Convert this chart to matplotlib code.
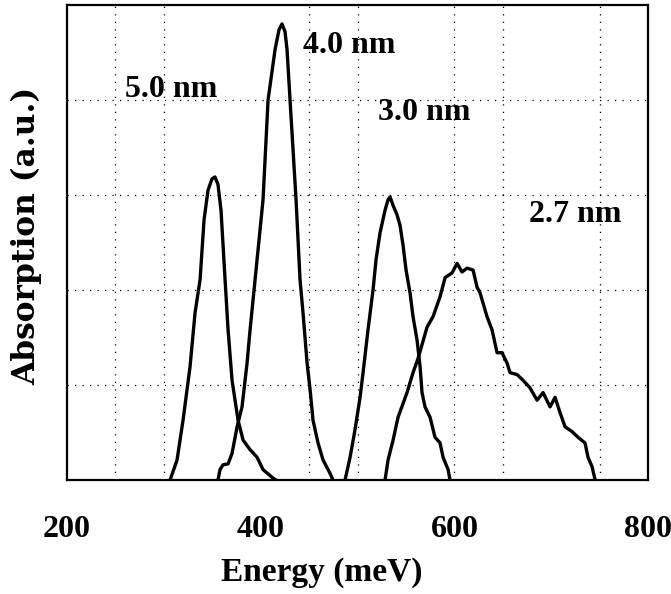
import matplotlib
matplotlib.use("Agg")
import matplotlib.pyplot as plt

# absorption spectra (energy in meV, absorption in a.u.)
e_50 = [306.4, 313.6, 319.8, 327.0, 332.2, 337.4, 341.5, 345.6, 349.7, 352.8,
        355.9, 359.0, 363.2, 366.3, 370.4, 376.6, 381.8, 389.0, 396.2, 402.4,
        412.7, 415.8]
a_50 = [0, 0.21, 0.63, 1.19, 1.76, 2.11, 2.74, 3.05, 3.17, 3.19,
        3.11, 2.84, 2.11, 1.58, 1.05, 0.63, 0.42, 0.32, 0.24, 0.11,
        0.02, 0]

e_40 = [355.9, 358.0, 361.1, 366.3, 370.4, 375.6, 380.7, 385.9, 389.0, 394.2,
        398.3, 402.4, 407.6, 414.8, 418.9, 422.0, 425.1, 427.2, 430.3, 436.5,
        440.6, 443.7, 447.9, 451.0, 454.0, 459.2, 464.4, 471.6, 474.7]
a_40 = [0, 0.11, 0.16, 0.17, 0.28, 0.56, 0.77, 1.23, 1.58, 2.11,
        2.53, 2.95, 4.0, 4.53, 4.74, 4.80, 4.72, 4.53, 4.0, 2.95,
        2.11, 1.76, 1.23, 0.95, 0.63, 0.39, 0.21, 0.07, 0]

e_30 = [487.1, 492.3, 497.4, 502.6, 505.7, 510.8, 516.0, 519.1, 523.2, 528.4,
        531.5, 533.6, 536.7, 540.8, 543.9, 547.0, 550.1, 554.2, 557.3, 561.5,
        564.6, 566.6, 569.7, 574.9, 580.0, 585.2, 588.3, 593.5, 595.5]
a_30 = [0, 0.24, 0.53, 0.87, 1.13, 1.58, 2.0, 2.32, 2.6, 2.84,
        2.95, 2.98, 2.89, 2.79, 2.68, 2.47, 2.21, 1.97, 1.72, 1.47,
        1.19, 0.92, 0.77, 0.66, 0.45, 0.39, 0.24, 0.11, 0]

e_27 = [528.4, 531.5, 536.7, 541.8, 551.1, 557.3, 562.5, 571.8, 578.0, 585.2,
        590.4, 597.6, 602.8, 607.9, 613.1, 619.3, 623.4, 626.5, 633.7, 638.9,
        644.1, 649.2, 654.4, 657.5, 664.7, 670.9, 678.1, 685.4, 691.6, 698.8,
        704.0, 709.1, 714.3, 721.5, 727.7, 734.9, 738.0, 742.2, 745.3]
a_27 = [0, 0.21, 0.42, 0.66, 0.92, 1.13, 1.28, 1.61, 1.72, 1.93,
        2.13, 2.18, 2.28, 2.19, 2.23, 2.21, 2.03, 1.97, 1.72, 1.58,
        1.34, 1.34, 1.23, 1.13, 1.11, 1.05, 0.97, 0.84, 0.92, 0.77,
        0.87, 0.71, 0.56, 0.51, 0.45, 0.39, 0.24, 0.14, 0]

sizes = ["5.0 nm", "4.0 nm", "3.0 nm", "2.7 nm"]
label_x = [308, 491, 569, 725]
label_y = [4.03, 4.49, 3.79, 2.72]

xticks = [200, 400, 600, 800]
vgrid = [250, 300, 450, 500, 600, 650, 750]
hgrid = [1, 2, 3, 4]

serif = "Liberation Serif"

fig = plt.figure(figsize=(6.71, 5.94), dpi=100)
ax = fig.add_axes([0.0999, 0.1919, 0.8659, 0.7997])

for g in vgrid:
    ax.axvline(g, color="black", lw=0.9, ls=(0, (1, 5)), zorder=1)
for g in hgrid:
    ax.axhline(g, color="black", lw=0.9, ls=(0, (1, 5)), zorder=1)

for e, a in [(e_50, a_50), (e_40, a_40), (e_30, a_30), (e_27, a_27)]:
    ax.plot(e, a, color="black", lw=2.4, zorder=3)

for s, x, y in zip(sizes, label_x, label_y):
    ax.text(x, y, s, ha="center", va="baseline", fontsize=23,
            family=serif, weight="bold")

ax.set_xlim(200, 800)
ax.set_ylim(0, 5)
ax.set_xticks(xticks)
ax.set_xticklabels([str(t) for t in xticks], family=serif, weight="bold", fontsize=23)
ax.set_yticks([])
ax.tick_params(axis="x", length=0, pad=25)

for sp in ax.spines.values():
    sp.set_linewidth(1.6)
    sp.set_zorder(4)

ax.set_xlabel("Energy (meV)", family=serif, weight="bold", fontsize=24)
ax.xaxis.set_label_coords(0.439, -0.162)
ax.set_ylabel("Absorption (a.u.)", family="DejaVu Serif", weight="bold", fontsize=22.5)
ax.yaxis.set_label_coords(-0.043, 0.514)

fig.savefig("out.png", dpi=100)
